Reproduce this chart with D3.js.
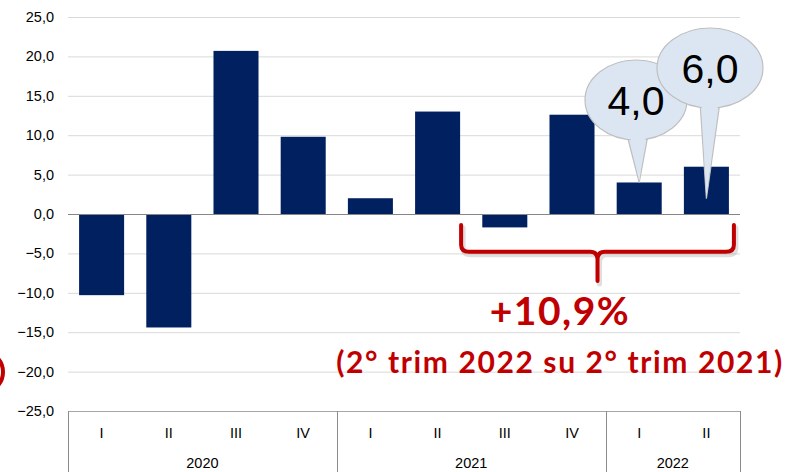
<!DOCTYPE html>
<html>
<head>
<meta charset="utf-8">
<script src="https://cdn.jsdelivr.net/npm/d3@7"></script>
<style>
  body { margin: 0; background: #fff; }
  svg { display: block; }
</style>
</head>
<body>
<svg id="chart" width="788" height="472"></svg>
<script>
// data
const quarters = ["I", "II", "III", "IV", "I", "II", "III", "IV", "I", "II"];
const years = ["2020", "2020", "2020", "2020", "2021", "2021", "2021", "2021", "2022", "2022"];
const values = [-10.3, -14.4, 20.7, 9.8, 2.0, 13.0, -1.7, 12.6, 4.0, 6.0];
const yTicks = [25, 20, 15, 10, 5, 0, -5, -10, -15, -20, -25];
const callouts = [{ idx: 8, label: "4,0" }, { idx: 9, label: "6,0" }];
const growthLabel = "+10,9%";
const growthNote = "(2° trim 2022 su 2° trim 2021)";

const svg = d3.select("#chart");
const plotL = 68, plotR = 740, plotT = 17, plotB = 411;
const keys = values.map((d, i) => i);

const x = d3.scaleBand().domain(keys).range([plotL, plotR]).paddingInner(0.33).paddingOuter(0.165);
const y = d3.scaleLinear().domain([-25, 25]).range([plotB, plotT]);
const fmt = v => d3.format(".1f")(v).replace(".", ",");

// gridlines
svg.append("g").selectAll("line")
  .data(yTicks.filter(t => t !== 0 && t !== -25))
  .join("line")
  .attr("x1", plotL).attr("x2", plotR)
  .attr("y1", d => y(d) + 0.5).attr("y2", d => y(d) + 0.5)
  .attr("stroke", "#d9d9d9").attr("stroke-width", 1);

// y labels
svg.append("g").selectAll("text")
  .data(yTicks)
  .join("text")
  .attr("x", 54).attr("y", d => y(d) + 5)
  .attr("text-anchor", "end")
  .attr("font-family", "Liberation Sans, Arial, sans-serif")
  .attr("font-size", 14.5)
  .attr("fill", "#000")
  .text(fmt);

// bars
svg.append("g").selectAll("rect")
  .data(values)
  .join("rect")
  .attr("x", (d, i) => x(i))
  .attr("width", x.bandwidth())
  .attr("y", d => y(Math.max(0, d)))
  .attr("height", d => Math.abs(y(d) - y(0)))
  .attr("fill", "#002060");

// zero line
svg.append("line")
  .attr("x1", plotL).attr("x2", plotR)
  .attr("y1", y(0) + 0.5).attr("y2", y(0) + 0.5)
  .attr("stroke", "#868686").attr("stroke-width", 1.2);

// category axis box
const step = x.step();
const catX = i => plotL + step * (i + 0.5);
svg.append("line")
  .attr("x1", plotL).attr("x2", plotR)
  .attr("y1", plotB + 0.5).attr("y2", plotB + 0.5)
  .attr("stroke", "#a6a6a6");

const groups = d3.groups(keys, i => years[i]);
const seps = [0].concat(groups.map(g => g[1][g[1].length - 1] + 1));
svg.append("g").selectAll("line")
  .data(seps)
  .join("line")
  .attr("x1", i => Math.round(plotL + step * i) + 0.5)
  .attr("x2", i => Math.round(plotL + step * i) + 0.5)
  .attr("y1", plotB).attr("y2", 472)
  .attr("stroke", "#8c8c8c");

svg.append("g").selectAll("text")
  .data(quarters)
  .join("text")
  .attr("x", (d, i) => catX(i)).attr("y", 438)
  .attr("text-anchor", "middle")
  .attr("font-family", "Liberation Sans, Arial, sans-serif")
  .attr("font-size", 14.5)
  .attr("fill", "#000")
  .text(d => d);

svg.append("g").selectAll("text")
  .data(groups)
  .join("text")
  .attr("x", g => (catX(g[1][0]) + catX(g[1][g[1].length - 1])) / 2)
  .attr("y", 468)
  .attr("text-anchor", "middle")
  .attr("font-family", "Liberation Sans, Arial, sans-serif")
  .attr("font-size", 14.5)
  .attr("fill", "#000")
  .text(g => g[0]);

// brace
const bL = x(5) + x.bandwidth() + 1, bR = x(9) + x.bandwidth() + 5;
const bM = (bL + bR) / 2, bT = y(-1.4), bH = y(-4.8), bTip = y(-8.5);
const brace = `M${bL},${bT} L${bL},${bH - 7} Q${bL},${bH} ${bL + 8},${bH} L${bM - 7},${bH} Q${bM},${bH} ${bM},${bH + 8} L${bM},${bTip}` +
  ` M${bM},${bH + 8} Q${bM},${bH} ${bM + 7},${bH} L${bR - 8},${bH} Q${bR},${bH} ${bR},${bH - 7} L${bR},${bT}`;
svg.append("path").attr("d", brace).attr("fill", "none")
  .attr("stroke", "#7f7f7f").attr("stroke-opacity", 0.25).attr("stroke-width", 5)
  .attr("stroke-linecap", "round").attr("transform", "translate(2,3)");
svg.append("path").attr("d", brace).attr("fill", "none")
  .attr("stroke", "#c00000").attr("stroke-width", 4)
  .attr("stroke-linecap", "round").attr("stroke-linejoin", "round");

svg.append("text")
  .attr("x", 560).attr("y", 325)
  .attr("text-anchor", "middle")
  .attr("font-family", "Lato, Open Sans, sans-serif")
  .attr("font-weight", "bold").attr("font-size", 39)
  .attr("letter-spacing", 1.5)
  .attr("fill", "#c00000")
  .text(growthLabel);
svg.append("text")
  .attr("x", 560).attr("y", 373)
  .attr("text-anchor", "middle")
  .attr("font-family", "Lato, Open Sans, sans-serif")
  .attr("font-weight", "bold").attr("font-size", 30)
  .attr("letter-spacing", 1.6)
  .attr("fill", "#c00000")
  .text(growthNote);

// partial red circle on the left edge
svg.append("ellipse")
  .attr("cx", -14).attr("cy", 372).attr("rx", 17).attr("ry", 19)
  .attr("fill", "none").attr("stroke", "#c00000").attr("stroke-width", 4);

// callouts
const calloutGeo = [
  { cx: 636, cy: 100, rx: 51, ry: 40, tipDy: 0, b1: 627, b2: 648, by: 135, fs: 41 },
  { cx: 710, cy: 68, rx: 53, ry: 40, tipDy: 32, b1: 700, b2: 720, by: 102, fs: 41 }
];
callouts.forEach((c, k) => {
  const g = calloutGeo[k];
  const tx = x(c.idx) + x.bandwidth() / 2;
  const ty = y(values[c.idx]) + g.tipDy;
  const grp = svg.append("g");
  grp.append("path")
    .attr("d", `M${g.b1},${g.by} L${tx},${ty} L${g.b2},${g.by} Z`)
    .attr("fill", "#dce6f2").attr("stroke", "#bfbfbf").attr("stroke-width", 1.2);
  grp.append("ellipse")
    .attr("cx", g.cx).attr("cy", g.cy).attr("rx", g.rx).attr("ry", g.ry)
    .attr("fill", "#dce6f2").attr("stroke", "#bfbfbf").attr("stroke-width", 1.2);
  grp.append("path")
    .attr("d", `M${g.b1 + 1},${g.by - 8} L${tx},${ty - 1} L${g.b2 - 1},${g.by - 8} Z`)
    .attr("fill", "#dce6f2");
  grp.append("text")
    .attr("x", g.cx).attr("y", g.cy + 15)
    .attr("text-anchor", "middle")
    .attr("font-family", "Liberation Sans, Arial, sans-serif")
    .attr("font-size", g.fs)
    .attr("fill", "#000")
    .text(c.label);
});
</script>
</body>
</html>
